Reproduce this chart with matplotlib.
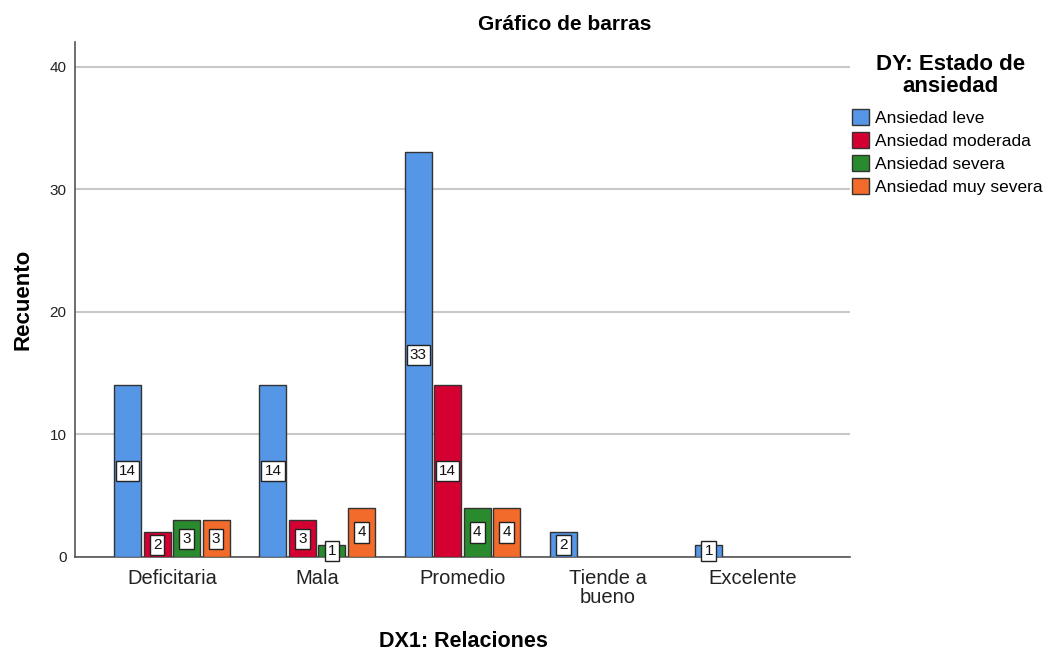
import numpy as np
import matplotlib.pyplot as plt
from matplotlib.patches import Patch

plt.rcParams['font.family'] = ['Liberation Sans', 'DejaVu Sans']

categorias = ['Deficitaria', 'Mala', 'Promedio', 'Tiende a\nbueno', 'Excelente']
niveles = ['Ansiedad leve', 'Ansiedad moderada', 'Ansiedad severa', 'Ansiedad muy severa']
leve = [14, 14, 33, 2, 1]
moderada = [2, 3, 14, 0, 0]
severa = [3, 1, 4, 0, 0]
muy_severa = [3, 4, 4, 0, 0]
series = [leve, moderada, severa, muy_severa]

colores = ['#5596E6', '#D50032', '#2A8A2E', '#F26B2A']

fig = plt.figure(figsize=(10.48, 6.51), dpi=100)
ax = fig.add_axes([0.0716, 0.1444, 0.7394, 0.7911])

x = np.arange(len(categorias))
paso = 0.203
ancho = 0.186
for i, vals in enumerate(series):
    pos = x + (i - 1.5) * paso
    for xp, v in zip(pos, vals):
        if v == 0:
            continue
        ax.bar(xp, v, width=ancho, color=colores[i], edgecolor='#333333', linewidth=1.0, zorder=3)
        ax.text(xp, v / 2, str(v), ha='center', va='center', fontsize=11, color='#111111', zorder=4,
                bbox=dict(boxstyle='square,pad=0.2', fc='white', ec='#222222', lw=1.0))

ax.set_xlim(-0.667, 4.667)
ax.set_ylim(0, 42)
ax.set_yticks([0, 10, 20, 30, 40])
ax.set_xticks(x)
ax.set_xticklabels(categorias, fontsize=14.5, color='#222222', linespacing=0.95)
ax.tick_params(axis='y', labelsize=11, length=0, pad=6, colors='#222222')
ax.tick_params(axis='x', length=0, pad=9)
ax.grid(axis='y', color='#c8c8c8', linewidth=1.5, zorder=0)
for s in ['top', 'right']:
    ax.spines[s].set_visible(False)
for s in ['left', 'bottom']:
    ax.spines[s].set_color('#555555')
    ax.spines[s].set_linewidth(1.2)

ax.set_ylabel('Recuento', fontsize=16, fontweight='bold', labelpad=12)
fig.text(0.442, 0.015, 'DX1: Relaciones', ha='center', va='center', fontsize=15.5, fontweight='bold')
fig.text(0.539, 0.963, 'Gráfico de barras', ha='center', va='center', fontsize=15, fontweight='bold')

# titulo de la leyenda
fig.text(0.907, 0.884, 'DY: Estado de\nansiedad', ha='center', va='center', fontsize=16,
         fontweight='bold', multialignment='center', linespacing=1.05)

handles = [Patch(facecolor=c, edgecolor='#333333', linewidth=1.0) for c in colores]
leg = fig.legend(handles, niveles, loc='upper left', bbox_to_anchor=(0.813, 0.832),
                 fontsize=12.5, frameon=False,
                 handlelength=1.0, handleheight=1.0, handletextpad=0.3, labelspacing=0.36,
                 borderaxespad=0, borderpad=0)

fig.savefig('out.png', dpi=100)
